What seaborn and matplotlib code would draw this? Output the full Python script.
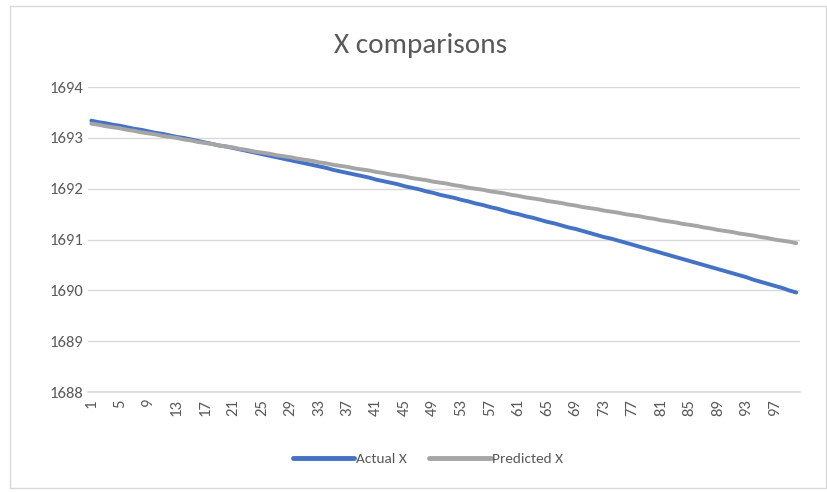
import matplotlib
matplotlib.use("Agg")
import matplotlib.pyplot as plt
import seaborn as sns
import pandas as pd
from matplotlib.patches import Rectangle

points = list(range(1, 101))

actual_x = [
    1693.34, 1693.31, 1693.29, 1693.26, 1693.24, 1693.21, 1693.18, 1693.16, 1693.13, 1693.10,
    1693.08, 1693.05, 1693.02, 1693.00, 1692.97, 1692.94, 1692.91, 1692.88, 1692.85, 1692.83,
    1692.80, 1692.77, 1692.74, 1692.71, 1692.68, 1692.65, 1692.62, 1692.59, 1692.56, 1692.53,
    1692.50, 1692.47, 1692.44, 1692.41, 1692.37, 1692.34, 1692.31, 1692.28, 1692.25, 1692.22,
    1692.18, 1692.15, 1692.12, 1692.09, 1692.05, 1692.02, 1691.99, 1691.95, 1691.92, 1691.88,
    1691.85, 1691.82, 1691.78, 1691.75, 1691.71, 1691.68, 1691.64, 1691.61, 1691.57, 1691.53,
    1691.50, 1691.46, 1691.43, 1691.39, 1691.35, 1691.32, 1691.28, 1691.24, 1691.21, 1691.17,
    1691.13, 1691.09, 1691.05, 1691.02, 1690.98, 1690.94, 1690.90, 1690.86, 1690.82, 1690.78,
    1690.74, 1690.70, 1690.66, 1690.62, 1690.58, 1690.54, 1690.50, 1690.46, 1690.42, 1690.38,
    1690.34, 1690.30, 1690.26, 1690.21, 1690.17, 1690.13, 1690.09, 1690.05, 1690.00, 1689.96,
]

predicted_x = [
    1693.28, 1693.26, 1693.23, 1693.21, 1693.19, 1693.16, 1693.14, 1693.11, 1693.09, 1693.07,
    1693.04, 1693.02, 1693.00, 1692.97, 1692.95, 1692.92, 1692.90, 1692.88, 1692.85, 1692.83,
    1692.81, 1692.78, 1692.76, 1692.73, 1692.71, 1692.69, 1692.66, 1692.64, 1692.62, 1692.59,
    1692.57, 1692.55, 1692.52, 1692.50, 1692.47, 1692.45, 1692.43, 1692.40, 1692.38, 1692.36,
    1692.33, 1692.31, 1692.28, 1692.26, 1692.24, 1692.21, 1692.19, 1692.17, 1692.14, 1692.12,
    1692.10, 1692.07, 1692.05, 1692.02, 1692.00, 1691.98, 1691.95, 1691.93, 1691.91, 1691.88,
    1691.86, 1691.83, 1691.81, 1691.79, 1691.76, 1691.74, 1691.72, 1691.69, 1691.67, 1691.64,
    1691.62, 1691.60, 1691.57, 1691.55, 1691.53, 1691.50, 1691.48, 1691.46, 1691.43, 1691.41,
    1691.38, 1691.36, 1691.34, 1691.31, 1691.29, 1691.27, 1691.24, 1691.22, 1691.19, 1691.17,
    1691.15, 1691.12, 1691.10, 1691.08, 1691.05, 1691.03, 1691.00, 1690.98, 1690.96, 1690.93,
]

series_names = ["Actual X", "Predicted X"]
series_colors = ["#4472C4", "#A5A5A5"]
y_ticks = [1688, 1689, 1690, 1691, 1692, 1693, 1694]
x_ticks = list(range(1, 101, 4))
title = "X comparisons"

df = pd.DataFrame({
    "Point": points * 2,
    "Value": actual_x + predicted_x,
    "Series": [series_names[0]] * len(points) + [series_names[1]] * len(points),
})

sns.set_theme(style="white")
plt.rcParams["font.family"] = ["Carlito", "Lato", "DejaVu Sans"]

fig = plt.figure(figsize=(8.28, 4.92), dpi=100)
ax = fig.add_axes([0.106, 0.203, 0.860, 0.620])

sns.lineplot(data=df, x="Point", y="Value", hue="Series",
             palette=dict(zip(series_names, series_colors)),
             linewidth=2.8, ax=ax, legend=True)

ax.set_xlim(0.5, 100.5)
ax.set_ylim(1688, 1694)
ax.set_yticks(y_ticks)
ax.set_yticklabels([str(v) for v in y_ticks], fontsize=12, color="#595959")
ax.set_xticks(x_ticks)
ax.set_xticklabels([str(v) for v in x_ticks], rotation=90, fontsize=12, color="#595959")
ax.tick_params(axis="y", length=0, pad=3)
ax.tick_params(axis="x", length=0, pad=5)
ax.grid(axis="y", color="#D9D9D9", linewidth=1.0)
ax.set_axisbelow(True)
for s in ["top", "right", "left"]:
    ax.spines[s].set_visible(False)
ax.spines["bottom"].set_color("#D9D9D9")
ax.set_xlabel("")
ax.set_ylabel("")

fig.text(0.508, 0.908, title, ha="center", va="center", fontsize=21, color="#595959")

handles, labels = ax.get_legend_handles_labels()
ax.legend(handles, labels, loc="center", ncol=2, frameon=False,
          fontsize=11, labelcolor="#595959", handlelength=4.0,
          handletextpad=0.1, columnspacing=1.5)
leg = ax.get_legend()
leg.set_bbox_to_anchor((0.517, 0.067), transform=fig.transFigure)
for line in leg.get_lines():
    line.set_linewidth(3.5)

fig.patches.append(Rectangle((0.012, 0.008), 0.985, 0.98, transform=fig.transFigure,
                             fill=False, edgecolor="#D9D9D9", linewidth=1.0))

fig.savefig("out.png", dpi=100)
